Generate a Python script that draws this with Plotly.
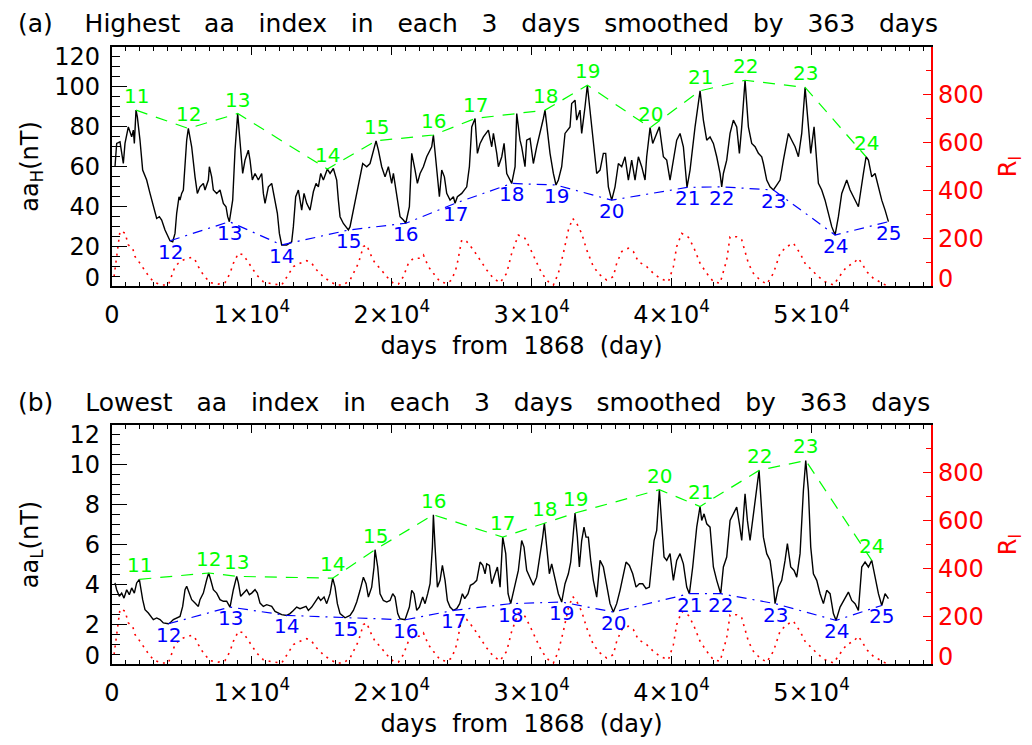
import plotly.graph_objects as go

FONT = "DejaVu Sans"
BLACK = "#000000"
GREEN = "#00ff00"
BLUE = "#0000ff"
RED = "#ff0000"
NB = "\u00a0"

# ---------------- shared axis ticks ----------------
x_tick_vals = [0, 10000, 20000, 30000, 40000, 50000]
x_tick_text = ["0", "1×10<sup>4</sup>", "2×10<sup>4</sup>", "3×10<sup>4</sup>",
               "4×10<sup>4</sup>", "5×10<sup>4</sup>"]
x_range = [0, 58540]

ri_tick_vals = [0, 200, 400, 600, 800]
ri_tick_text = ["0", "200", "400", "600", "800"]
ri_label_pos = [33, 200, 400, 600, 800]          # end labels sit inside the frame

aaH_tick_vals = [0, 20, 40, 60, 80, 100, 120]
aaH_tick_text = ["0", "20", "40", "60", "80", "100", "120"]
aaH_label_pos = [4, 20, 40, 60, 80, 100, 115]

aaL_tick_vals = [0, 2, 4, 6, 8, 10, 12]
aaL_tick_text = ["0", "2", "4", "6", "8", "10", "12"]
aaL_label_pos = [0.4, 2, 4, 6, 8, 10, 11.5]

# ---------------- panel (a): highest aa, smoothed ----------------
top_days = [214, 334, 572, 810, 929, 1168, 1406, 1525, 1597, 1716, 1811, 2002, 2192, 2478,
            2717, 2955, 3193, 3384, 3551, 3789, 4146, 4337, 4504, 4623, 4790, 4861, 4981,
            5100, 5338, 5457, 5695, 5934, 6100, 6291, 6529, 6649, 6887, 6958, 7125, 7244,
            7483, 7721, 7959, 8150, 8269, 8388, 8626, 8793, 8984, 9103, 9341, 9508, 9746,
            9866, 10032, 10223, 10461, 10700, 10819, 10938, 11176, 11415, 11534, 11653,
            11820, 11963, 12129, 12487, 12844, 12963, 13130, 13321, 13440, 13559, 13726,
            13917, 14155, 14393, 14584, 14751, 14918, 15108, 15394, 15585, 15823, 16061,
            16180, 16300, 16538, 16895, 17014, 17205, 17444, 17730, 17920, 18206, 18444,
            18873, 19040, 19278, 19517, 19755, 19993, 20113, 20351, 20589, 20827, 21000,
            21256, 21423, 21661, 21828, 22019, 22257, 22495, 22853, 22972, 23210, 23401,
            23568, 23759, 23925, 24164, 24402, 24521, 24688, 24998, 25355, 25546, 25713,
            25951, 26118, 26309, 26547, 26904, 27143, 27262, 27500, 27619, 27858, 28025,
            28215, 28572, 28811, 28930, 29164, 29283, 29521, 29640, 29879, 30117, 30355,
            30594, 30832, 30951, 31189, 31309, 31547, 31737, 31904, 32143, 32381, 32738,
            32857, 33096, 33215, 33453, 33572, 33692, 33811, 33977, 34168, 34406, 34645,
            34883, 35121, 35288, 35479, 35717, 35955, 36194, 36432, 36670, 36909, 37147,
            37385, 37624, 37862, 38100, 38219, 38460, 38648, 38934, 39125, 39411, 39649,
            39887, 40126, 40364, 40602, 40841, 41100, 41317, 41675, 42032, 42270, 42509,
            42747, 42985, 43224, 43462, 43581, 43700, 43938, 44177, 44415, 44653, 44844,
            45011, 45249, 45487, 45726, 45964, 46202, 46441, 46560, 46798, 47036, 47275,
            47513, 47751, 47990, 48347, 48585, 48824, 49062, 49300, 49539, 49777, 49944,
            50182, 50325, 50492, 50730, 50968, 51207, 51445, 51683, 51922, 52160, 52517,
            52756, 52994, 53351, 53709, 53900, 54067, 54305, 54543, 54782, 55020, 55258,
            55497]
top_aa = [59.9, 71.6, 72.4, 61.5, 71.6, 79.9, 74.9, 78.3, 71.6, 88.3, 84.9, 73.2, 58.2, 53.2,
          46.5, 39.8, 33.9, 34.8, 33.1, 28.1, 22.7, 22.2, 26.4, 36.5, 44.8, 43.1, 46.5,
          48.2, 73.2, 79.1, 69.9, 54.8, 46.5, 49.8, 51.5, 48.2, 53.2, 59.9, 54.8, 48.2,
          46.5, 48.2, 41.5, 39.8, 34.8, 32.3, 43.1, 68.2, 86.6, 76.6, 56.5, 63.2, 68.2,
          63.2, 53.2, 56.5, 53.2, 56.5, 46.5, 41.5, 49.8, 51.5, 46.5, 41.5,
          36.5, 26.4, 20.6, 20.6, 22.2, 29.8, 44.8, 48.2, 43.1, 38.1, 46.5,
          41.5, 38.1, 47.3, 51.5, 49.8, 56.5, 53.2, 58.7, 56.5, 59.0, 53.2,
          43.1, 34.8, 31.4, 28.1, 29.8, 36.5, 46.5, 56.5, 61.5, 59.9, 61.5,
          72.9, 68.2, 59.9, 54.8, 59.9, 51.5, 56.5, 46.5, 34.8, 33.1, 31.5,
          39.8, 66.6, 58.2, 51.5, 56.5, 59.9, 64.9, 69.9, 75.8, 59.9, 44.8,
          58.2, 54.8, 46.5, 43.1, 44.8, 41.5, 44.8, 46.5, 49.8, 59.9, 79.9,
          84.1, 66.6, 71.6, 74.9, 78.3, 69.9, 76.6, 66.6, 59.9, 64.9, 71.6,
          56.5, 51.5, 59.9, 86.6, 73.2, 69.9, 59.9, 73.2, 74.1, 61.5, 69.9,
          76.6, 84.1, 88.3, 73.2, 66.6, 56.5, 50.7, 53.2, 59.9, 76.6, 79.9,
          91.6, 93.3, 83.3, 88.3, 76.6, 84.9, 90.0, 100.8, 88.3, 71.6, 56.5,
          58.2, 66.6, 66.6, 49.8, 43.1, 49.8, 61.5, 59.9, 64.9, 53.2, 63.2,
          53.2, 64.9, 59.9, 53.2, 64.9, 79.5, 71.6, 76.6, 79.9, 64.9, 63.2,
          53.2, 63.2, 73.2, 76.6, 69.9, 49.5, 58.2, 79.9, 98.0, 83.3, 73.2,
          74.9, 71.6, 64.9, 56.5, 49.8, 56.5, 63.2, 76.6, 83.3, 79.9, 66.6,
          79.9, 103.3, 79.9, 71.6, 69.9, 66.6, 64.9, 61.5, 53.2, 49.8, 48.2,
          50.7, 53.2, 63.2, 76.6, 73.2, 69.9, 64.9, 76.6, 99.7, 79.9, 66.6,
          79.9, 66.6, 51.5, 48.2, 43.1, 36.5, 29.8, 25.6, 34.8, 46.5, 53.2,
          48.2, 44.8, 39.8, 56.5, 64.9, 63.2, 54.8, 56.5, 49.8, 43.1, 38.1,
          32.3]

top_max_cycle = ["11", "12", "13", "14", "15", "16", "17", "18", "19", "20", "21", "22", "23", "24"]
top_max_days = [1716, 5457, 8984, 15394, 18873, 22972, 25951, 30951, 33977, 38460, 42032,
                45249, 49539, 53900]
top_max_aa = [88.3, 79.1, 86.6, 58.7, 72.9, 75.8, 84.1, 88.3, 100.8, 79.5, 98.0, 103.3, 99.7, 64.9]

top_min_cycle = ["12", "13", "14", "15", "16", "17", "18", "19", "20", "21", "22", "23", "24", "25"]
top_min_days = [4146, 8388, 12129, 16895, 21000, 24521, 28572, 31737, 35717, 41100, 43581,
                47275, 51683, 55497]
top_min_aa = [22.7, 32.3, 20.6, 28.1, 31.5, 41.5, 51.5, 50.7, 43.1, 49.5, 49.8, 48.2, 25.6, 32.3]

# ---------------- panel (b): lowest aa, smoothed ----------------
bot_days = [214, 334, 524, 691, 858, 1049, 1239, 1406, 1597, 1763, 1954, 2049, 2192, 2359,
            2597, 2955, 3193, 3432, 3670, 4027, 4146, 4385, 4623, 4861, 5052, 5219, 5338,
            5529, 5695, 5934, 6172, 6291, 6529, 6768, 6911, 7054, 7244, 7483, 7721, 7959,
            8197, 8436, 8674, 8912, 9032, 9198, 9389, 9627, 9818, 9985, 10223, 10390, 10580,
            10819, 11057, 11415, 11653, 11891, 12129, 12487, 12725, 12963, 13202, 13440,
            13678, 13869, 14036, 14274, 14512, 14751, 14918, 15156, 15347, 15585, 15775,
            15942, 16109, 16300, 16657, 16776, 17014, 17253, 17491, 17730, 17968, 18158,
            18325, 18563, 18730, 18801, 18992, 19159, 19397, 19636, 19874, 20065, 20232,
            20422, 20589, 20946, 21256, 21423, 21590, 21780, 21971, 22209, 22376, 22567,
            22734, 22901, 22972, 23092, 23258, 23449, 23616, 23806, 23973, 24164, 24402,
            24640, 24855, 25045, 25212, 25450, 25617, 25832, 26070, 26309, 26500, 26666,
            26785, 26976, 27143, 27381, 27548, 27739, 27929, 28144, 28310, 28500, 28806,
            29045, 29283, 29450, 29640, 29879, 30117, 30355, 30594, 30784, 30903, 31070,
            31261, 31428, 31666, 31904, 32143, 32381, 32619, 32786, 32929, 33096, 33263,
            33406, 33572, 33739, 33882, 34049, 34216, 34406, 34645, 34883, 35121, 35360,
            35598, 35836, 36074, 36313, 36551, 36742, 36981, 37219, 37457, 37695, 37934,
            38172, 38410, 38577, 38744, 38934, 39125, 39292, 39458, 39649, 39887, 40126,
            40364, 40602, 40841, 41079, 41270, 41508, 41794, 42032, 42151, 42318, 42509,
            42747, 42985, 43224, 43510, 43700, 43938, 44177, 44415, 44653, 44844, 45011,
            45249, 45416, 45606, 45798, 46036, 46250, 46369, 46560, 46798, 47036, 47227,
            47394, 47632, 47870, 48109, 48275, 48514, 48752, 48943, 49181, 49419, 49586,
            49777, 49944, 50134, 50373, 50611, 50850, 51087, 51326, 51564, 51755, 52041,
            52279, 52636, 52875, 53113, 53351, 53590, 53828, 54067, 54305, 54543, 54782,
            55020, 55258, 55497]
bot_aa = [4.07, 3.73, 3.40, 3.56, 3.31, 3.73, 3.48, 3.82, 3.56, 4.07, 4.25, 3.73, 3.23, 2.73,
          2.56, 2.23, 2.31, 2.23, 2.06, 2.02, 2.06, 2.23, 2.31, 2.39, 2.89, 3.73, 3.90,
          3.56, 3.23, 3.06, 2.89, 3.23, 3.56, 4.23, 4.57, 4.23, 3.73, 3.56, 3.23, 3.15,
          3.15, 2.86, 3.73, 4.40, 4.07, 3.40, 3.56, 3.73, 3.48, 3.56, 3.73, 3.56, 3.06,
          2.89, 2.98, 2.89, 2.64, 2.56, 2.48, 2.44, 2.53, 2.69, 2.86, 2.78,
          2.86, 2.89, 2.69, 2.86, 3.11, 3.36, 3.19, 3.36, 3.03, 3.53, 4.31,
          3.86, 3.03, 2.53, 2.32, 2.36, 2.44, 2.69, 3.11, 3.70, 4.36, 4.03,
          3.36, 3.86, 4.87, 5.74, 4.87, 3.53, 3.19, 3.11, 3.19, 3.53, 3.36,
          2.53, 2.27, 2.22, 2.86, 3.70, 3.53, 2.69, 2.86, 3.36, 3.03, 3.53,
          4.03, 5.87, 7.49, 5.87, 3.86, 4.20, 4.95, 4.20, 3.19, 2.86, 2.69,
          2.78, 3.03, 3.53, 3.28, 3.53, 3.95, 4.03, 4.20, 5.12, 4.95, 4.53,
          5.03, 4.95, 4.03, 4.53, 4.87, 3.86, 6.37, 5.54, 3.53, 3.03, 4.03,
          4.70, 6.20, 5.87, 4.70, 4.36, 3.95, 4.36, 5.37, 6.37, 7.07, 5.87,
          4.53, 5.03, 4.20, 3.53, 3.11, 4.03, 4.53, 5.12, 6.20, 7.58, 6.37,
          4.87, 6.20, 6.87, 6.37, 6.37, 5.20, 4.20, 3.36, 5.20, 4.87, 3.86,
          3.03, 2.61, 3.03, 3.70, 4.53, 5.12, 4.95, 4.53, 3.86, 4.03, 4.03,
          3.78, 3.86, 4.87, 6.20, 6.71, 8.75, 7.04, 5.37, 5.20, 5.54, 4.20,
          5.20, 5.54, 5.03, 3.86, 3.53, 4.87, 6.87, 7.91, 7.21, 7.54, 7.04,
          6.87, 4.87, 4.20, 3.53, 4.87, 5.37, 7.21, 7.54, 7.88, 7.04, 6.20,
          8.55, 7.21, 6.20, 7.37, 8.55, 9.72, 8.38, 6.37, 5.54, 5.20, 4.20,
          3.03, 3.86, 4.20, 5.20, 6.04, 4.87, 4.70, 4.36, 5.54, 8.71, 10.22,
          8.71, 5.87, 4.53, 4.20, 3.53, 3.03, 3.70, 3.53, 2.53, 2.19, 2.86,
          3.19, 3.61, 3.19, 3.03, 2.69, 4.87, 5.12, 4.87, 5.20, 4.36, 3.53,
          2.94, 3.53, 3.28]

bot_max_cycle = ["11", "12", "13", "14", "15", "16", "17", "18", "19", "20", "21", "22", "23", "24"]
bot_max_days = [1954, 6911, 8912, 15775, 18801, 22972, 27929, 30903, 33096, 39125, 42032,
                46250, 49586, 54305]
bot_max_aa = [4.25, 4.57, 4.40, 4.31, 5.74, 7.49, 6.37, 7.07, 7.58, 8.75, 7.91, 9.72, 10.22, 5.20]

bot_min_cycle = ["12", "13", "14", "15", "16", "17", "18", "19", "20", "21", "22", "23", "24", "25"]
bot_min_days = [4027, 8436, 12487, 16657, 20946, 24402, 28500, 32143, 35836, 41270, 43510,
                47394, 51755, 55020]
bot_min_aa = [2.02, 2.86, 2.44, 2.32, 2.22, 2.69, 3.03, 3.11, 2.61, 3.53, 3.53, 3.03, 2.19, 2.94]

# ---------------- sunspot number R_I (right axis, both panels) ----------------
ri_days = [150, 330, 572, 929, 1168, 1477, 1644, 2002, 2478, 2955, 3551, 4027, 4266, 4504,
           4742, 5100, 5695, 5934, 6172, 6529, 7006, 7602, 8078, 8436, 8674, 9032, 9389,
           9627, 9985, 10342, 10819, 11534, 12129, 12487, 12963, 13440, 13917, 14274,
           14632, 15108, 15585, 16061, 16538, 17014, 17253, 17610, 17968, 18206, 18444,
           18802, 19159, 19636, 20113, 20470, 20827, 21185, 21542, 22019, 22257, 22615,
           22972, 23449, 23925, 24283, 24640, 24998, 25355, 25832, 26309, 26785, 27262,
           27739, 28210, 28568, 29045, 29521, 29879, 30355, 30713, 31189, 31547, 31904,
           32262, 32619, 32929, 33215, 33572, 33930, 34406, 34883, 35360, 35836, 36074,
           36432, 36909, 37266, 37624, 38219, 38696, 39173, 39769, 40126, 40364, 40722,
           41198, 41556, 42032, 42509, 42985, 43462, 43938, 44177, 44653, 45011, 45487,
           45845, 46321, 46798, 47275, 47751, 48228, 48704, 49181, 49539, 50015, 50492,
           50968, 51564, 52160, 52517, 52994, 53351, 53590, 53948, 54424, 55020, 55377]
ri_vals = [40, 130, 230, 222, 172, 158, 123, 95, 53, 18, 4, 4, 39, 81,
           95, 109, 120, 109, 81, 46, 14, 8, 14, 53, 95, 137, 130,
           109, 74, 46, 18, 8, 4, 39, 81, 95, 106, 95,
           67, 39, 18, 4, 4, 25, 53, 95, 165, 172, 137,
           95, 74, 39, 11, 8, 39, 95, 116, 116, 130, 81,
           53, 18, 11, 25, 81, 193, 186, 151, 109, 67, 32,
           14, 53, 137, 213, 199, 158, 95, 53, 18, 4, 53,
           137, 234, 283, 262, 220, 151, 81, 46, 25, 39, 95,
           144, 158, 144, 102, 81, 53, 32, 18, 81, 165, 220,
           204, 165, 95, 53, 18, 11, 109, 206, 206, 193, 95,
           53, 25, 8, 53, 137, 165, 179, 137, 95, 67, 39,
           18, 4, 53, 81, 95, 116, 95, 60, 32, 11, 1]

panel_a_title = "(a)" + NB * 4 + (NB * 3).join(
    ["Highest", "aa", "index", "in", "each", "3", "days", "smoothed", "by", "363", "days"])
panel_b_title = "(b)" + NB * 4 + (NB * 3).join(
    ["Lowest", "aa", "index", "in", "each", "3", "days", "smoothed", "by", "363", "days"])
x_title = (NB * 2).join(["days", "from", "1868", "(day)"])

fig = go.Figure()


def add_panel(xa, ya, ra, days, aa, max_d, max_v, max_c, min_d, min_v, min_c):
    fig.add_trace(go.Scatter(x=ri_days, y=ri_vals, xaxis=xa, yaxis=ra, mode="lines",
                             line=dict(color=RED, width=1.6, dash="2px,5px"),
                             hoverinfo="skip", showlegend=False))
    fig.add_trace(go.Scatter(x=days, y=aa, xaxis=xa, yaxis=ya, mode="lines",
                             line=dict(color=BLACK, width=1.4), showlegend=False))
    fig.add_trace(go.Scatter(x=max_d, y=max_v, xaxis=xa, yaxis=ya, mode="lines",
                             line=dict(color=GREEN, width=1.2, dash="12px,9px"),
                             showlegend=False))
    fig.add_trace(go.Scatter(x=min_d, y=min_v, xaxis=xa, yaxis=ya, mode="lines",
                             line=dict(color=BLUE, width=1.2, dash="10px,6px,2px,6px"),
                             showlegend=False))
    for d, v, c in zip(max_d, max_v, max_c):
        fig.add_annotation(x=d, y=v, xref=xa, yref=ya, text=c, showarrow=False,
                           yshift=14, font=dict(family=FONT, size=20, color=GREEN))
    for d, v, c in zip(min_d, min_v, min_c):
        fig.add_annotation(x=d, y=v, xref=xa, yref=ya, text=c, showarrow=False,
                           yshift=-11, font=dict(family=FONT, size=20, color=BLUE))


add_panel("x", "y", "y2", top_days, top_aa, top_max_days, top_max_aa, top_max_cycle,
          top_min_days, top_min_aa, top_min_cycle)
add_panel("x2", "y3", "y4", bot_days, bot_aa, bot_max_days, bot_max_aa, bot_max_cycle,
          bot_min_days, bot_min_aa, bot_min_cycle)

# empty traces so the label-only twin axes are laid out
for xa, ya in [("x", "y5"), ("x", "y6"), ("x2", "y7"), ("x2", "y8")]:
    fig.add_trace(go.Scatter(x=[], y=[], xaxis=xa, yaxis=ya, mode="lines",
                             hoverinfo="skip", showlegend=False))

tick_font = dict(family=FONT, size=24, color=BLACK)
red_font = dict(family=FONT, size=24, color=RED)


def x_axis(anchor):
    return dict(domain=[0, 1], anchor=anchor, range=x_range, showgrid=False,
                zeroline=False, showline=True, linecolor=BLACK, linewidth=1.5,
                mirror="ticks", ticks="inside", ticklen=8, tickwidth=1.2, tickcolor=BLACK,
                tickmode="array", tickvals=x_tick_vals, ticktext=x_tick_text,
                tickfont=tick_font, ticklabelstandoff=6,
                minor=dict(dtick=1000, tick0=0, ticks="inside", ticklen=4, tickwidth=1,
                           tickcolor=BLACK),
                title=dict(text=x_title, font=tick_font, standoff=10))


def left_axis(domain, anchor, rng, vals, minor_dtick, title):
    # frame line, long major ticks and short minor ticks; labels come from a twin axis
    return dict(domain=domain, anchor=anchor, range=rng, showgrid=False, zeroline=False,
                showline=True, linecolor=BLACK, linewidth=1.5, ticks="inside",
                ticklen=15, tickwidth=1.2, tickcolor=BLACK, tickmode="array",
                tickvals=vals, showticklabels=False,
                minor=dict(dtick=minor_dtick, tick0=0, ticks="inside", ticklen=8,
                           tickwidth=1, tickcolor=BLACK),
                title=dict(text=title, font=tick_font, standoff=65))


def left_labels(overlay, anchor, rng, pos, text):
    return dict(overlaying=overlay, anchor=anchor, side="left", range=rng, showgrid=False,
                zeroline=False, showline=False, ticks="", tickmode="array", tickvals=pos,
                ticktext=text, tickfont=tick_font, ticklabelstandoff=11)


def right_axis(overlay, anchor, title):
    return dict(overlaying=overlay, anchor=anchor, side="right", range=[0, 1000],
                showgrid=False, zeroline=False, showline=True, linecolor=RED,
                linewidth=1.5, ticks="inside", ticklen=8, tickwidth=1.2, tickcolor=RED,
                tickmode="array", tickvals=ri_tick_vals, showticklabels=False,
                minor=dict(dtick=100, tick0=0, ticks="inside", ticklen=5, tickwidth=1,
                           tickcolor=RED),
                title=dict(text=title, font=red_font, standoff=67))


def right_labels(overlay, anchor):
    return dict(overlaying=overlay, anchor=anchor, side="right", range=[0, 1000],
                showgrid=False, zeroline=False, showline=False, ticks="",
                tickmode="array", tickvals=ri_label_pos, ticktext=ri_tick_text,
                tickfont=red_font, ticklabelstandoff=6)


fig.update_layout(
    width=1032, height=745,
    margin=dict(l=112, r=101, t=47, b=81, autoexpand=False),
    paper_bgcolor="white", plot_bgcolor="white",
    font=dict(family=FONT, size=24, color=BLACK),
    showlegend=False,
    xaxis=x_axis("y"),
    xaxis2=x_axis("y3"),
    yaxis=left_axis([0.61264, 1.0], "x", [0, 120], aaH_tick_vals, 5, "aa<sub>H</sub>(nT)"),
    yaxis2=right_axis("y", "x", "R<sub>I</sub>"),
    yaxis3=left_axis([0.0, 0.38736], "x2", [0, 12], aaL_tick_vals, 0.5, "aa<sub>L</sub>(nT)"),
    yaxis4=right_axis("y3", "x2", "R<sub>I</sub>"),
    yaxis5=left_labels("y", "x", [0, 120], aaH_label_pos, aaH_tick_text),
    yaxis6=right_labels("y", "x"),
    yaxis7=left_labels("y3", "x2", [0, 12], aaL_label_pos, aaL_tick_text),
    yaxis8=right_labels("y3", "x2"),
)

fig.add_annotation(xref="paper", yref="paper", x=(16 - 112) / 819, y=(664 - 23) / 617,
                   xanchor="left", yanchor="middle", text=panel_a_title, showarrow=False,
                   font=dict(family=FONT, size=25, color=BLACK))
fig.add_annotation(xref="paper", yref="paper", x=(16 - 112) / 819, y=(664 - 402) / 617,
                   xanchor="left", yanchor="middle", text=panel_b_title, showarrow=False,
                   font=dict(family=FONT, size=25, color=BLACK))

fig.write_html("out.html")
